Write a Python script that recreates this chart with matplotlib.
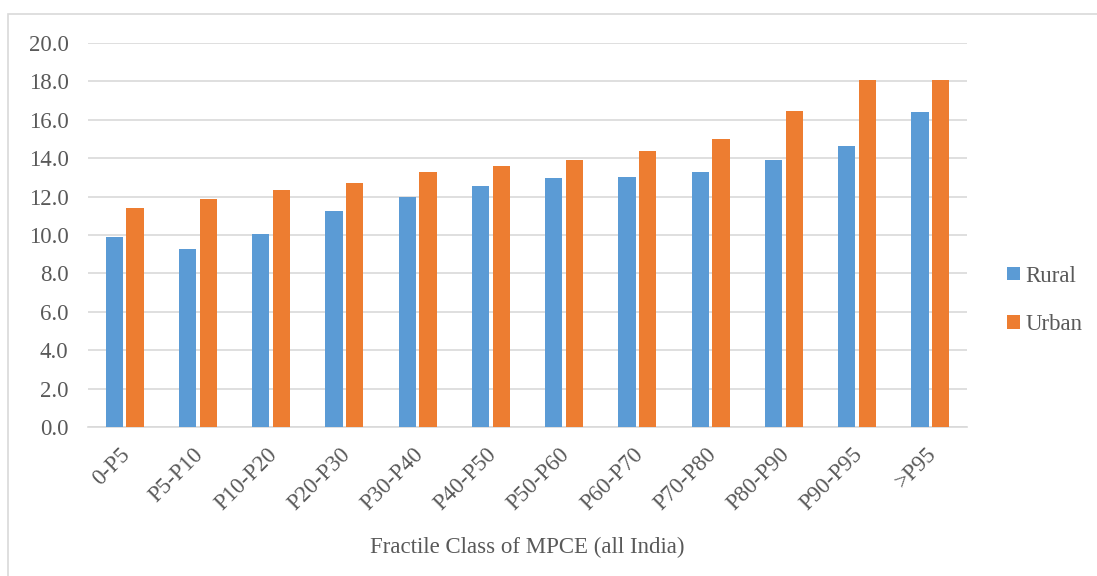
import matplotlib.pyplot as plt
import matplotlib.transforms as mtransforms
import numpy as np
from matplotlib.patches import Rectangle

classes = ["0-P5", "P5-P10", "P10-P20", "P20-P30", "P30-P40", "P40-P50",
           "P50-P60", "P60-P70", "P70-P80", "P80-P90", "P90-P95", ">P95"]
rural = [9.9, 9.25, 10.03, 11.23, 12.0, 12.53, 12.95, 13.0, 13.28, 13.89, 14.62, 16.42]
urban = [11.42, 11.9, 12.33, 12.7, 13.28, 13.61, 13.89, 14.37, 14.98, 16.47, 18.09, 18.07]

plt.rcParams["font.family"] = ["Liberation Serif", "DejaVu Serif"]
grey = "#595959"
fs = 16.5

fig = plt.figure(figsize=(10.97, 5.76), dpi=100)
ax = fig.add_axes([88 / 1097, 1 - 427 / 576, (967 - 88) / 1097, (427 - 43) / 576])

x = np.arange(len(classes))
w = 0.235
ax.bar(x - 0.143, rural, w, color="#5B9BD5", label="Rural", zorder=3)
ax.bar(x + 0.143, urban, w, color="#ED7D31", label="Urban", zorder=3)

ax.set_xlim(-0.5, len(classes) - 0.5)
ax.set_ylim(0, 20)
ax.set_yticks(np.arange(0, 20.1, 2))
ax.set_yticklabels([f"{v:.1f}" for v in np.arange(0, 20.1, 2)])
ax.yaxis.grid(True, color="#D9D9D9", linewidth=1.2, zorder=0)
ax.tick_params(axis="y", length=0, pad=14, labelsize=fs, labelcolor=grey)
ax.tick_params(axis="x", length=0, pad=12, labelsize=fs, labelcolor=grey)
ax.set_xticks(x)
ax.set_xticklabels(classes, rotation=45, ha="right", rotation_mode="anchor")
shift = mtransforms.ScaledTranslation(-5 / 100, 0, fig.dpi_scale_trans)
for lab in ax.get_xticklabels():
    lab.set_transform(lab.get_transform() + shift)
for s in ["top", "right", "left"]:
    ax.spines[s].set_visible(False)
ax.spines["bottom"].set_color("#D9D9D9")
ax.spines["bottom"].set_linewidth(1.2)

ax.set_xlabel("Fractile Class of MPCE (all India)", fontsize=fs, color=grey, labelpad=16)

ax.legend(loc="center left", bbox_to_anchor=(1.022, 0.33), frameon=False,
          fontsize=fs, labelcolor=grey, handlelength=0.55, handleheight=0.55,
          handletextpad=0.25, labelspacing=1.2)

fig.patches.append(Rectangle((8 / 1097, -0.1), 1.2, 1 - 14 / 576 + 0.1,
                             transform=fig.transFigure, fill=False,
                             edgecolor="#D9D9D9", linewidth=1.2))

fig.savefig("out.png", dpi=100)
